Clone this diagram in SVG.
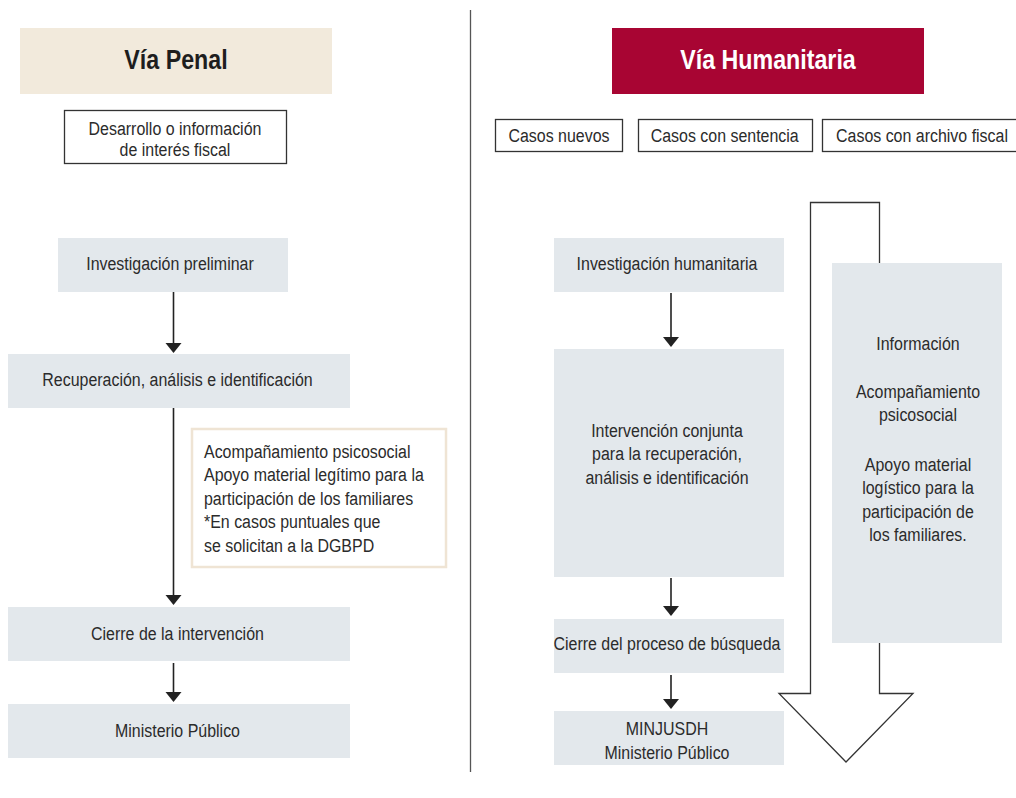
<svg xmlns="http://www.w3.org/2000/svg" width="1016" height="798" viewBox="0 0 1016 798">
<style>
text{font-family:'Liberation Sans',Arial,sans-serif;font-size:19px;fill:#2b2b2b}
.n{transform:scale(0.84,1)}
.c{text-anchor:middle}
.title{font-size:28px;font-weight:bold;text-anchor:middle;transform:scale(0.83,1)}
.gray{fill:#e3e8ec}
.outline{fill:#fff;stroke:#333;stroke-width:1.3}
.ln{stroke:#222;stroke-width:1.6;fill:none}
.head{fill:#222}
</style>
<defs>
<polygon id="ah" points="-8,0 8,0 0,10" class="head"/>
</defs>
<rect width="1016" height="798" fill="#fff"/>
<line x1="470.5" y1="10" x2="470.5" y2="772" stroke="#555" stroke-width="1.3"/>

<g id="vp-header"><rect x="20" y="28" width="312" height="66" fill="#f2eadc"/><text x="212.05" y="69" class="title" style="fill:#1e1e1e">Vía Penal</text></g>
<g id="vh-header"><rect x="612" y="28" width="312" height="66" fill="#a80533"/><text x="925.3" y="69" class="title" style="fill:#fff">Vía Humanitaria</text></g>

<g id="desarrollo"><rect x="64.5" y="110.5" width="222" height="53" class="outline"/><text x="208.33" y="135" class="c n">Desarrollo o información</text><text x="208.33" y="156" class="c n">de interés fiscal</text></g>

<g id="casos-nuevos"><rect x="495.5" y="119.5" width="127" height="32" class="outline"/><text x="665.48" y="142" class="c n">Casos nuevos</text></g>
<g id="casos-sentencia"><rect x="638.5" y="119.5" width="174" height="32" class="outline"/><text x="862.74" y="142" class="c n">Casos con sentencia</text></g>
<g id="casos-archivo"><rect x="822.5" y="119.5" width="200" height="32" class="outline"/><text x="1097.62" y="142" class="c n">Casos con archivo fiscal</text></g>

<g id="inv-preliminar"><rect x="58" y="238" width="230" height="54" class="gray"/><text x="202.38" y="270" class="c n">Investigación preliminar</text></g>
<g id="recuperacion"><rect x="8" y="354" width="342" height="54" class="gray"/><text x="211.31" y="386" class="c n">Recuperación, análisis e identificación</text></g>
<g id="apoyo"><rect x="192" y="429" width="254" height="138" fill="#fff" stroke="#efe4d4" stroke-width="2.5"/>
<text x="242.86" y="458" class="n">Acompañamiento psicosocial</text>
<text x="242.86" y="481.5" class="n">Apoyo material legítimo para la</text>
<text x="242.86" y="505" class="n">participación de los familiares</text>
<text x="242.86" y="528.5" class="n">*En casos puntuales que</text>
<text x="242.86" y="552" class="n">se solicitan a la DGBPD</text></g>
<g id="cierre-intervencion"><rect x="8" y="607" width="342" height="54" class="gray"/><text x="211.31" y="640" class="c n">Cierre de la intervención</text></g>
<g id="ministerio-publico"><rect x="8" y="704" width="342" height="54" class="gray"/><text x="211.31" y="737" class="c n">Ministerio Público</text></g>

<g id="big-arrow"><path d="M810.5,202.5 H879.5 V693.5 H913 L846,762 L779,693.5 H810.5 Z" class="outline"/></g>

<g id="inv-humanitaria"><rect x="554" y="238" width="230" height="54" class="gray"/><text x="794.05" y="270" class="c n">Investigación humanitaria</text></g>
<g id="intervencion-conjunta"><rect x="554" y="349" width="230" height="228" class="gray"/><text x="794.05" y="437" class="c n">Intervención conjunta</text><text x="794.05" y="460.5" class="c n">para la recuperación,</text><text x="794.05" y="484" class="c n">análisis e identificación</text></g>
<g id="cierre-busqueda"><rect x="554" y="619" width="230" height="54" class="gray"/><text x="794.05" y="650" class="c n">Cierre del proceso de búsqueda</text></g>
<g id="minjusdh"><rect x="554" y="711" width="230" height="54" class="gray"/><text x="794.05" y="735" class="c n">MINJUSDH</text><text x="794.05" y="759" class="c n">Ministerio Público</text></g>

<g id="info-box"><rect x="832" y="263" width="170" height="380" class="gray"/>
<text x="1092.86" y="350" class="c n">Información</text>
<text x="1092.86" y="398" class="c n">Acompañamiento</text>
<text x="1092.86" y="421.5" class="c n">psicosocial</text>
<text x="1092.86" y="471" class="c n">Apoyo material</text>
<text x="1092.86" y="494.5" class="c n">logístico para la</text>
<text x="1092.86" y="518" class="c n">participación de</text>
<text x="1092.86" y="541.5" class="c n">los familiares.</text></g>

<g id="connectors">
<line x1="173.5" y1="292" x2="173.5" y2="344" class="ln"/><use href="#ah" x="173.5" y="343"/>
<line x1="173.5" y1="408" x2="173.5" y2="596" class="ln"/><use href="#ah" x="173.5" y="595"/>
<line x1="173.5" y1="663" x2="173.5" y2="693" class="ln"/><use href="#ah" x="173.5" y="692"/>
<line x1="671" y1="293" x2="671" y2="338" class="ln"/><use href="#ah" x="671" y="337"/>
<line x1="671" y1="578" x2="671" y2="607" class="ln"/><use href="#ah" x="671" y="606"/>
<line x1="671" y1="675" x2="671" y2="700" class="ln"/><use href="#ah" x="671" y="699"/>
</g>
</svg>
